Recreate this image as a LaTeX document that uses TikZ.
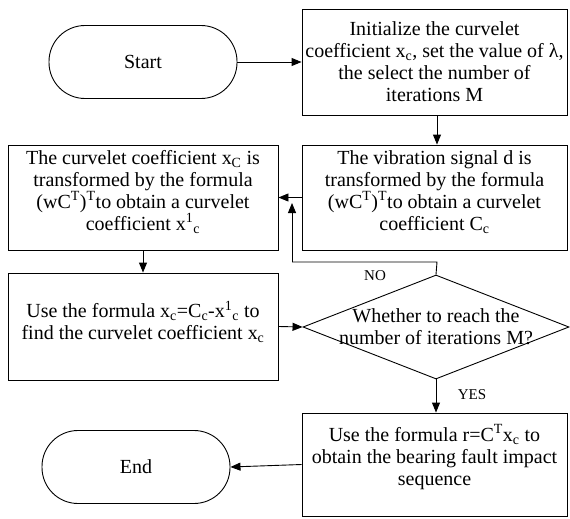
\documentclass[tikz,border=0pt]{standalone}
\usepackage{fontspec}
\setmainfont{Liberation Serif}
\usetikzlibrary{arrows.meta,shapes.geometric}
\tikzset{
  txt/.style={font=\fontsize{20}{22}\selectfont},
  box/.style={draw, line width=0.9pt, inner sep=0pt, align=center, txt},
  term/.style={draw, line width=0.9pt, rounded corners=36pt, minimum width=188pt, minimum height=73pt, txt},
  dia/.style={draw, diamond, line width=0.9pt, inner sep=0pt, minimum width=266pt, minimum height=104pt},
  lbl/.style={txt, align=center, inner sep=0pt},
  small/.style={font=\fontsize{15}{18}\selectfont, inner sep=0pt},
  arr/.style={line width=0.9pt, -{Triangle[length=10pt,width=8pt]}},
  ln/.style={line width=0.9pt}
}
\begin{document}
\begin{tikzpicture}[x=1pt,y=-1pt]
\useasboundingbox (0,0) rectangle (570,519);
\node[term] (start) at (143,62) {Start};
\node[box, minimum width=265pt, minimum height=106pt] (init) at (434.5,62) {Initialize the curvelet\\coefficient x\textsubscript{c}, set the value of λ,\\the select the number of\\iterations M};
\node[box, minimum width=265pt, minimum height=105pt] (vib) at (434.5,197.5) {};
\node[lbl] (vibt) at (434.5,192) {The vibration signal d is\\transformed by the formula\\(wC\textsuperscript{T})\textsuperscript{T}to obtain a curvelet\\coefficient C\textsubscript{c}};
\node[box, minimum width=270pt, minimum height=105pt] (cur) at (143,197.5) {};
\node[lbl] (curt) at (143,192) {The curvelet coefficient x\textsubscript{C} is\\transformed by the formula\\(wC\textsuperscript{T})\textsuperscript{T}to obtain a curvelet\\coefficient x\textsuperscript{1}\textsubscript{c}};
\node[box, minimum width=270pt, minimum height=107pt] (use) at (143,326.5) {};
\node[lbl] (uset) at (143,322) {Use the formula x\textsubscript{c}=C\textsubscript{c}-x\textsuperscript{1}\textsubscript{c} to\\find the curvelet coefficient x\textsubscript{c}};
\node[dia] (dec) at (436,327) {};
\node[lbl] (dect) at (436,326.5) {Whether to reach the\\number of iterations M?};
\node[box, minimum width=265pt, minimum height=103pt] (fin) at (434.5,464.5) {};
\node[lbl] (fint) at (434.5,457) {Use the formula r=C\textsuperscript{T}x\textsubscript{c} to\\obtain the bearing fault impact\\sequence};
\node[term] (end) at (136,467) {End};
\coordinate (n1) at (437,262);
\coordinate (n2) at (292,262);
\coordinate (n3) at (292,203);
\draw[arr] (start.east) -- (init.west);
\draw[arr] (init.south -| 437,0) -- (vib.north -| 437,0);
\draw[arr] (vib.west) -- (cur.east);
\draw[arr] (cur.south) -- (use.north);
\draw[arr] (use.east) -- (dec.west);
\draw[ln] (dec.north) -- (n1) -- (n2);
\draw[arr] (n2) -- (n3);
\draw[arr] (dec.south) -- (fin.north -| dec.south);
\draw[arr] (fin.west) -- (end.east);
\node[small] (no) at (375,276) {NO};
\node[small] (yes) at (472,395) {YES};
\end{tikzpicture}
\end{document}
